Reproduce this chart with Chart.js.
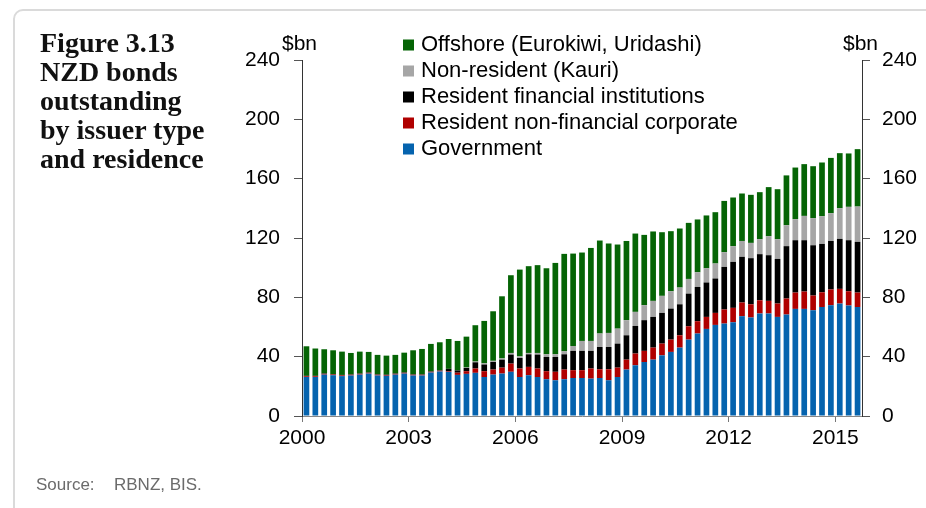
<!DOCTYPE html>
<html lang="en">

<head>
    <meta charset="UTF-8">
    <title>NZD bonds outstanding</title>
    <script src="https://cdn.jsdelivr.net/npm/chart.js"></script>
    <style>
        body {
            margin: 0;
            background: #FFFFFF;
            width: 926px;
            height: 508px;
            overflow: hidden;
            position: relative;
            font-family: 'Liberation Sans', Arial, sans-serif;
        }

        .panel {
            position: absolute;
            left: 13px;
            top: 9px;
            width: 1000px;
            height: 600px;
            border: 2px solid #DADADA;
            border-radius: 10px;
        }

        .title {
            position: absolute;
            left: 40px;
            top: 28px;
            font-family: 'Liberation Serif', 'Times New Roman', serif;
            font-weight: bold;
            font-size: 28px;
            line-height: 29px;
            color: #111111;
        }

        .source {
            position: absolute;
            left: 36px;
            top: 475px;
            font-size: 17px;
            color: #6B6B6B;
        }

        #chartBox {
            position: absolute;
            left: 0;
            top: 0;
            width: 926px;
            height: 508px;
        }
    </style>
</head>

<body>
    <div class="panel"></div>
    <div id="chartBox"><canvas id="bondChart"></canvas></div>
    <div class="title">Figure 3.13<br>NZD bonds<br>outstanding<br>by issuer type<br>and residence</div>
    <div class="source"><span style="display:inline-block;width:78px">Source:</span>RBNZ, BIS.</div>

    <script>
        // quarterly, 2000 Q1 - 2015 Q3, $bn
        const quarters = [];
        for (let y = 2000; y <= 2015; y++) {
            for (let q = 1; q <= 4; q++) {
                if (y === 2015 && q > 3) break;
                quarters.push(y + ' Q' + q);
            }
        }

        const yearTickIdx = [0, 12, 24, 36, 48, 60];
        const yearLabels = ['2000', '2003', '2006', '2009', '2012', '2015'];
        const unitLabel = '$bn';

        const government = [
            26.3, 26.3, 27.9, 27.5, 26.9, 27.3, 27.9, 28.6, 27.3, 27.1, 27.9, 28.6,
            27.3, 27.3, 29.3, 30.0, 29.8, 27.7, 28.4, 29.1, 26.3, 27.9, 28.6, 29.8,
            26.3, 27.5, 26.3, 24.8, 24.1, 24.8, 25.6, 25.6, 25.2, 25.6, 24.1, 26.3,
            31.3, 34.2, 36.4, 38.0, 40.9, 43.2, 46.1, 51.5, 55.6, 58.7, 61.4, 62.3,
            63.2, 67.3, 66.4, 69.1, 69.1, 66.8, 68.4, 72.2, 72.2, 71.3, 73.5, 74.7,
            75.8, 74.5, 73.5
        ];
        const nonFinCorporate = [
            0.5, 0.5, 0.5, 0.5, 0.5, 0.5, 0.5, 0.5, 0.5, 0.5, 0.5, 0.5,
            0.5, 0.5, 0.5, 0.5, 0.5, 1.5, 1.8, 2.9, 3.9, 3.4, 4.0, 5.5,
            5.7, 5.6, 5.7, 5.4, 5.7, 6.5, 5.3, 5.3, 6.8, 5.9, 7.4, 6.3,
            6.7, 7.9, 7.5, 8.1, 7.9, 8.3, 8.3, 9.0, 8.3, 8.1, 8.1, 9.5,
            9.7, 9.2, 8.9, 8.9, 8.5, 9.0, 10.8, 11.0, 11.7, 9.9, 9.9, 10.6,
            9.9, 9.6, 9.7
        ];
        const financialInst = [
            0.3, 0.3, 0.3, 0.3, 0.3, 0.3, 0.3, 0.3, 0.3, 0.3, 0.3, 0.3,
            0.3, 0.3, 0.3, 0.3, 1.5, 1.5, 2.2, 4.2, 4.5, 5.1, 5.4, 6.1,
            7.1, 8.5, 9.4, 9.6, 10.0, 10.3, 13.0, 13.0, 11.9, 15.0, 15.0, 16.2,
            16.4, 18.6, 20.7, 20.7, 20.7, 20.9, 20.9, 22.0, 23.1, 23.2, 23.2, 28.7,
            31.0, 30.8, 31.1, 31.1, 30.8, 30.1, 35.3, 35.3, 34.6, 33.9, 32.6, 32.7,
            33.7, 34.4, 34.2
        ];
        const kauri = [
            0, 0, 0, 0, 0, 0, 0, 0, 0, 0, 0, 0,
            0, 0, 0, 0, 0, 0, 0.3, 0.5, 0.8, 0.8, 0.8, 1.1,
            1.1, 0.9, 1.1, 1.8, 1.8, 2.0, 3.3, 6.7, 6.7, 9.1, 9.5, 10.1,
            10.2, 9.5, 10.1, 10.8, 11.5, 11.7, 11.3, 9.9, 9.9, 9.6, 10.1, 9.9,
            10.6, 10.7, 10.3, 10.1, 12.8, 13.3, 14.1, 14.2, 16.4, 18.3, 18.7, 18.7,
            20.7, 22.5, 23.8
        ];
        const offshore = [
            19.9, 18.4, 16.3, 16.0, 15.7, 14.4, 14.7, 13.8, 13.1, 12.8, 12.5, 13.3,
            16.2, 17.1, 18.5, 18.9, 20.1, 19.9, 20.8, 24.5, 28.6, 33.4, 41.9, 52.4,
            58.5, 58.5, 59.2, 58.0, 61.6, 65.7, 62.3, 59.6, 62.7, 62.7, 60.3, 56.7,
            53.4, 52.8, 47.4, 46.8, 42.9, 40.5, 39.8, 37.8, 35.6, 35.6, 34.6, 34.6,
            32.8, 32.0, 32.4, 31.7, 33.1, 33.7, 33.6, 34.8, 34.9, 35.0, 36.2, 37.3,
            37.1, 36.0, 38.7
        ];

        const tickFont = { family: "'Liberation Sans', Arial, sans-serif", size: 21 };

        // legend + $bn labels drawn by hand so they can sit inside the plot
        const overlay = {
            id: 'overlay',
            afterDraw(chart) {
                const ctx = chart.ctx;
                ctx.save();
                ctx.textBaseline = 'middle';
                ctx.textAlign = 'left';
                ctx.fillStyle = '#000';
                ctx.font = "21px 'Liberation Sans', Arial, sans-serif";
                ctx.fillText(unitLabel, 282, 44);
                ctx.fillText(unitLabel, 843, 44);

                ctx.font = "22px 'Liberation Sans', Arial, sans-serif";
                const items = chart.data.datasets.slice().reverse();
                items.forEach((ds, i) => {
                    const y = 45 + i * 26;
                    ctx.fillStyle = ds.backgroundColor;
                    ctx.fillRect(403, y - 5.5, 11, 11);
                    ctx.fillStyle = '#000';
                    ctx.fillText(ds.label, 421, y);
                });
                ctx.restore();
            }
        };

        new Chart(document.getElementById('bondChart'), {
            type: 'bar',
            data: {
                labels: quarters,
                datasets: [
                    { label: 'Government', data: government, backgroundColor: '#0563AE' },
                    { label: 'Resident non-financial corporate', data: nonFinCorporate, backgroundColor: '#B00000' },
                    { label: 'Resident financial institutions', data: financialInst, backgroundColor: '#000000' },
                    { label: 'Non-resident (Kauri)', data: kauri, backgroundColor: '#A6A6A6' },
                    { label: 'Offshore (Eurokiwi, Uridashi)', data: offshore, backgroundColor: '#056405' }
                ]
            },
            options: {
                responsive: true,
                maintainAspectRatio: false,
                animation: false,
                layout: { padding: { top: 60, left: 0, right: 0, bottom: 0 } },
                datasets: { bar: { barPercentage: 0.64, categoryPercentage: 1 } },
                plugins: {
                    legend: { display: false },
                    tooltip: { enabled: false }
                },
                scales: {
                    x: { type: 'category', stacked: true, display: false },
                    // year ticks sit on the boundaries between quarters
                    xYears: {
                        type: 'linear',
                        position: 'bottom',
                        offset: false,
                        min: 0,
                        max: quarters.length,
                        afterBuildTicks: s => { s.ticks = yearTickIdx.map(v => ({ value: v })); },
                        afterFit: s => { s.height = 92; },
                        ticks: {
                            autoSkip: false,
                            maxRotation: 0,
                            padding: 4,
                            font: tickFont,
                            color: '#000',
                            callback: (v, i) => yearLabels[i]
                        },
                        grid: { offset: false, drawOnChartArea: false, tickLength: 6, color: '#777' },
                        border: { color: '#888' }
                    },
                    y: {
                        stacked: true,
                        position: 'left',
                        min: 0,
                        max: 240,
                        afterFit: s => { s.width = 302; },
                        ticks: { stepSize: 40, padding: 14, font: tickFont, color: '#000' },
                        grid: { drawOnChartArea: false, tickLength: 8, color: '#555' },
                        border: { color: '#333' }
                    },
                    y2: {
                        position: 'right',
                        min: 0,
                        max: 240,
                        afterFit: s => { s.width = 64; },
                        ticks: { stepSize: 40, padding: 12, font: tickFont, color: '#000' },
                        grid: { drawOnChartArea: false, tickLength: 8, color: '#555' },
                        border: { color: '#333' }
                    }
                }
            },
            plugins: [overlay]
        });
    </script>
</body>

</html>
